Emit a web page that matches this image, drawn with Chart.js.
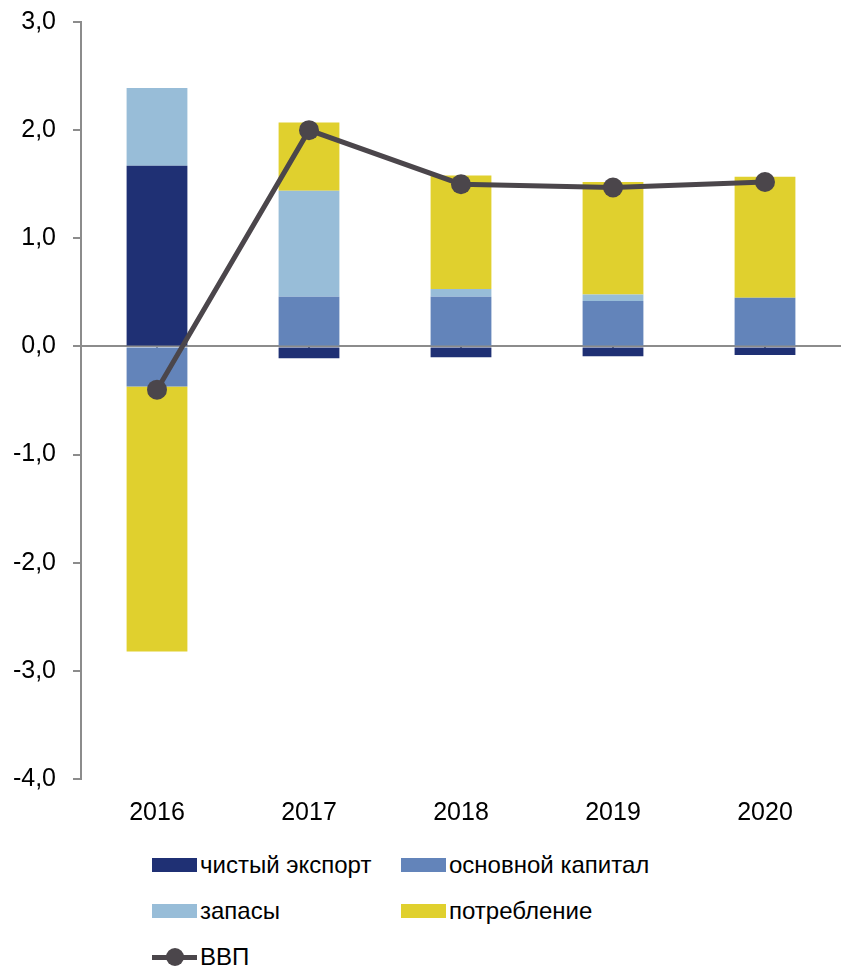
<!DOCTYPE html>
<html>
<head>
<meta charset="utf-8">
<script src="https://cdn.jsdelivr.net/npm/chart.js@4/dist/chart.umd.min.js"></script>
<style>
  html, body { margin: 0; padding: 0; background: #fff; overflow: hidden; }
  #wrap { position: relative; width: 841px; height: 967px; overflow: hidden; font-family: "Liberation Sans", Arial, sans-serif; }
  #c { position: absolute; left: 0; top: -10px; }
  .lg { position: absolute; font-size: 24px; color: #000; line-height: 24px; white-space: nowrap; }
  .bx { position: absolute; width: 45px; height: 14px; }
</style>
</head>
<body>
<div id="wrap">
  <canvas id="c" width="841" height="840"></canvas>
  <div id="legend"></div>
</div>
<script>
const categories = ["2016", "2017", "2018", "2019", "2020"];
const netExport   = [1.67, -0.11, -0.10, -0.09, -0.08];
const fixedCapital = [-0.37, 0.46, 0.46, 0.42, 0.45];
const inventories = [0.72, 0.98, 0.07, 0.06, 0.00];
const consumption = [-2.45, 0.63, 1.05, 1.04, 1.12];
const gdp         = [-0.40, 2.00, 1.50, 1.47, 1.52];
const seriesNames = ["чистый экспорт", "основной капитал", "запасы", "потребление", "ВВП"];

const colors = {
  netExport: "#1f3074",
  capital: "#6384ba",
  stocks: "#98bdd8",
  consumption: "#e0d02e",
  gdp: "#4b464b",
  axis: "#8c8c8c"
};

const FONT = "'Liberation Sans', Arial, sans-serif";

new Chart(document.getElementById("c"), {
  data: {
    labels: categories,
    datasets: [
      { type: "line", label: seriesNames[4], data: gdp, borderColor: colors.gdp, backgroundColor: colors.gdp,
        borderWidth: 5, pointRadius: 10, pointBackgroundColor: colors.gdp, pointBorderWidth: 0,
        tension: 0, order: 0, xAxisID: "x", yAxisID: "y" },
      { type: "bar", label: seriesNames[0], data: netExport, backgroundColor: colors.netExport, stack: "s", order: 1, barPercentage: 0.4, categoryPercentage: 1 },
      { type: "bar", label: seriesNames[1], data: fixedCapital, backgroundColor: colors.capital, stack: "s", order: 1, barPercentage: 0.4, categoryPercentage: 1 },
      { type: "bar", label: seriesNames[2], data: inventories, backgroundColor: colors.stocks, stack: "s", order: 1, barPercentage: 0.4, categoryPercentage: 1 },
      { type: "bar", label: seriesNames[3], data: consumption, backgroundColor: colors.consumption, stack: "s", order: 1, barPercentage: 0.4, categoryPercentage: 1 }
    ]
  },
  options: {
    responsive: false,
    animation: false,
    devicePixelRatio: 1,
    layout: { autoPadding: false, padding: { top: 12, left: 0, right: 0, bottom: 0 } },
    plugins: { legend: { display: false }, tooltip: { enabled: false } },
    scales: {
      x: {
        type: "category",
        position: "bottom",
        stacked: true,
        grid: { display: false, drawTicks: false },
        border: { display: false },
        ticks: { color: "#000", font: { family: FONT, size: 25 }, padding: 19 },
        afterFit: s => { s.height = 51; }
      },
      x2: {
        type: "category",
        labels: categories,
        position: { y: 0 },
        offset: true,
        grid: { display: true, drawOnChartArea: false, drawTicks: true, tickLength: 8, color: colors.axis, lineWidth: 2 },
        border: { display: true, color: colors.axis, width: 2 },
        ticks: { display: false },
        afterFit: s => { s.height = 0; }
      },
      y: {
        stacked: true,
        min: -4, max: 3,
        ticks: { stepSize: 1, color: "#000", font: { family: FONT, size: 25 }, padding: 17,
          callback: v => v.toFixed(1).replace(".", ",") },
        grid: { display: true, drawOnChartArea: false, drawTicks: true, tickLength: 8, color: colors.axis, lineWidth: 2 },
        border: { display: true, color: colors.axis, width: 2 },
        afterFit: s => { s.width = 81; }
      }
    }
  }
});

// HTML legend
const legendItems = [
  { name: seriesNames[0], color: colors.netExport, x: 152, y: 865 },
  { name: seriesNames[1], color: colors.capital, x: 401, y: 865 },
  { name: seriesNames[2], color: colors.stocks, x: 152, y: 911 },
  { name: seriesNames[3], color: colors.consumption, x: 401, y: 911 },
  { name: seriesNames[4], color: colors.gdp, x: 152, y: 957, line: true }
];
const lg = document.getElementById("legend");
legendItems.forEach(it => {
  if (it.line) {
    const ln = document.createElement("div");
    ln.style.cssText = `position:absolute;left:${it.x}px;top:${it.y - 2.5}px;width:45px;height:5px;background:${it.color};`;
    lg.appendChild(ln);
    const dot = document.createElement("div");
    dot.style.cssText = `position:absolute;left:${it.x + 22.5 - 9}px;top:${it.y - 9}px;width:18px;height:18px;border-radius:50%;background:${it.color};`;
    lg.appendChild(dot);
  } else {
    const b = document.createElement("div");
    b.className = "bx";
    b.style.left = it.x + "px";
    b.style.top = (it.y - 7) + "px";
    b.style.background = it.color;
    lg.appendChild(b);
  }
  const t = document.createElement("div");
  t.className = "lg";
  t.textContent = it.name;
  t.style.left = (it.x + 48) + "px";
  t.style.top = (it.y - 12) + "px";
  lg.appendChild(t);
});
</script>
</body>
</html>
